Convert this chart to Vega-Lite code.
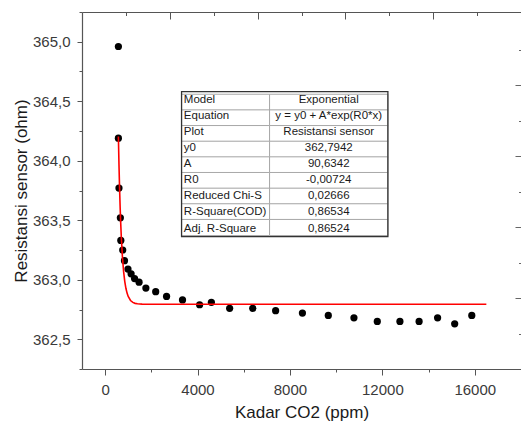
{
  "$schema": "https://vega.github.io/schema/vega-lite/v6.json",
  "width": 439,
  "height": 357,
  "autosize": {"type": "none"},
  "padding": {"left": 82, "top": 12, "right": 0, "bottom": 54},
  "background": "white",
  "config": {
    "view": {"stroke": null},
    "font": "Liberation Sans",
    "axis": {"grid": false, "labelOverlap": false}
  },
  "datasets": {
    "points": [
      {"co2": 575, "resistance": 364.96},
      {"co2": 575, "resistance": 364.19},
      {"co2": 600, "resistance": 363.77},
      {"co2": 660, "resistance": 363.52},
      {"co2": 680, "resistance": 363.33},
      {"co2": 762, "resistance": 363.25},
      {"co2": 838, "resistance": 363.16},
      {"co2": 990, "resistance": 363.09},
      {"co2": 1125, "resistance": 363.05},
      {"co2": 1275, "resistance": 363.01},
      {"co2": 1470, "resistance": 362.98},
      {"co2": 1765, "resistance": 362.93},
      {"co2": 2190, "resistance": 362.9},
      {"co2": 2660, "resistance": 362.86},
      {"co2": 3350, "resistance": 362.83},
      {"co2": 4090, "resistance": 362.79},
      {"co2": 4600, "resistance": 362.81},
      {"co2": 5390, "resistance": 362.76},
      {"co2": 6390, "resistance": 362.76},
      {"co2": 7380, "resistance": 362.74},
      {"co2": 8540, "resistance": 362.72},
      {"co2": 9660, "resistance": 362.7},
      {"co2": 10770, "resistance": 362.68},
      {"co2": 11780, "resistance": 362.65},
      {"co2": 12760, "resistance": 362.65},
      {"co2": 13590, "resistance": 362.65},
      {"co2": 14390, "resistance": 362.68},
      {"co2": 15130, "resistance": 362.63},
      {"co2": 15870, "resistance": 362.7}
    ],
    "fit": [
      {"x": 575, "y": 364.2046},
      {"x": 600, "y": 363.971},
      {"x": 625, "y": 363.7763},
      {"x": 650, "y": 363.6136},
      {"x": 675, "y": 363.478},
      {"x": 700, "y": 363.3648},
      {"x": 750, "y": 363.1915},
      {"x": 800, "y": 363.0708},
      {"x": 850, "y": 362.9868},
      {"x": 900, "y": 362.9283},
      {"x": 950, "y": 362.8876},
      {"x": 1000, "y": 362.8592},
      {"x": 1100, "y": 362.8257},
      {"x": 1200, "y": 362.8095},
      {"x": 1300, "y": 362.8016},
      {"x": 1400, "y": 362.7978},
      {"x": 1600, "y": 362.795},
      {"x": 2000, "y": 362.7943},
      {"x": 16500, "y": 362.7942}
    ],
    "table": [
      {"row": 0, "label": "Model", "value": "Exponential"},
      {"row": 1, "label": "Equation", "value": "y = y0 + A*exp(R0*x)"},
      {"row": 2, "label": "Plot", "value": "Resistansi sensor"},
      {"row": 3, "label": "y0", "value": "362,7942"},
      {"row": 4, "label": "A", "value": "90,6342"},
      {"row": 5, "label": "R0", "value": "-0,00724"},
      {"row": 6, "label": "Reduced Chi-S", "value": "0,02666"},
      {"row": 7, "label": "R-Square(COD)", "value": "0,86534"},
      {"row": 8, "label": "Adj. R-Square", "value": "0,86524"}
    ]
  },
  "resolve": {
    "scale": {"x": "independent", "y": "independent"},
    "axis": {"x": "independent", "y": "independent"}
  },
  "layer": [
    {
      "data": {"name": "points"},
      "mark": {"type": "point", "filled": true, "color": "#000000", "opacity": 1, "size": 52},
      "encoding": {
        "x": {
          "field": "co2", "type": "quantitative", "title": "Kadar CO2 (ppm)",
          "scale": {"domain": [-1000, 18000], "nice": false, "zero": false},
          "axis": {
            "orient": "bottom",
            "values": [0, 2000, 4000, 6000, 8000, 10000, 12000, 14000, 16000],
            "format": "d",
            "labelExpr": "datum.value % 4000 === 0 ? datum.label : ''",
            "tickSize": {"condition": {"test": "datum.value % 4000 === 0", "value": 6}, "value": 3},
            "tickColor": "#555555", "domainColor": "#555555", "tickWidth": 1, "domainWidth": 1.2,
            "labelFontSize": 15, "labelColor": "#3a3a3a", "labelPadding": 7, "labelFlush": false,
            "titleFontSize": 17, "titleFontWeight": "normal", "titleColor": "#1a1a1a", "titlePadding": 7
          }
        },
        "y": {
          "field": "resistance", "type": "quantitative", "title": "Resistansi sensor (ohm)",
          "scale": {"domain": [362.25, 365.25], "nice": false, "zero": false},
          "axis": {
            "orient": "left",
            "values": [362.25, 362.5, 362.75, 363, 363.25, 363.5, 363.75, 364, 364.25, 364.5, 364.75, 365, 365.25],
            "labelExpr": "abs(datum.value*2 - round(datum.value*2)) < 0.01 ? replace(format(datum.value, '.1f'), '.', ',') : ''",
            "tickSize": {"condition": {"test": "abs(datum.value*2 - round(datum.value*2)) < 0.01", "value": 5}, "value": 3},
            "tickColor": "#555555", "domainColor": "#555555", "tickWidth": 1, "domainWidth": 1.2,
            "labelFontSize": 15, "labelColor": "#3a3a3a", "labelPadding": 7,
            "titleFontSize": 17, "titleFontWeight": "normal", "titleColor": "#1a1a1a", "titlePadding": 2
          }
        }
      }
    },
    {
      "data": {"name": "fit"},
      "mark": {"type": "line", "color": "#ff0000", "strokeWidth": 1.6},
      "encoding": {
        "x": {"field": "x", "type": "quantitative", "scale": {"domain": [-1000, 18000], "nice": false, "zero": false}, "axis": null},
        "y": {"field": "y", "type": "quantitative", "scale": {"domain": [362.25, 365.25], "nice": false, "zero": false}, "axis": null}
      }
    },
    {
      "data": {"values": [{"t": 0}, {"t": 5}]},
      "mark": {"type": "point", "opacity": 0},
      "encoding": {
        "x": {
          "field": "t", "type": "quantitative",
          "scale": {"domain": [0, 5], "nice": false, "zero": false},
          "axis": {
            "orient": "top", "title": null, "labels": false,
            "values": [0.5, 1, 1.5, 2, 2.5, 3, 3.5, 4, 4.5],
            "tickSize": {"condition": {"test": "datum.value % 1 === 0", "value": -7}, "value": -3.5},
            "tickColor": "#555555", "domainColor": "#555555", "domainWidth": 1.2
          }
        }
      }
    },
    {
      "data": {"values": [{"r": 0}, {"r": 5}]},
      "mark": {"type": "point", "opacity": 0},
      "encoding": {
        "y": {
          "field": "r", "type": "quantitative",
          "scale": {"domain": [0, 5.03], "nice": false, "zero": false},
          "axis": {
            "orient": "right", "title": null, "labels": false, "domain": false,
            "values": [0.5, 1, 1.5, 2, 2.5, 3, 3.5, 4, 4.5],
            "tickSize": {"condition": {"test": "datum.value % 1 === 0", "value": -6}, "value": -2.5},
            "tickColor": "#666666"
          }
        }
      }
    },
    {
      "data": {"name": "table"},
      "mark": {"type": "bar", "height": 16.1, "fill": "white", "stroke": "#a8a8a8", "strokeWidth": 1},
      "encoding": {
        "x": {"datum": 3309, "type": "quantitative", "scale": {"domain": [-1000, 18000], "nice": false, "zero": false}, "axis": null},
        "x2": {"datum": 7118},
        "y": {"field": "row", "type": "quantitative", "scale": {"domain": [-5.45, 16.724], "reverse": true, "nice": false, "zero": false}, "axis": null}
      }
    },
    {
      "data": {"name": "table"},
      "mark": {"type": "bar", "height": 16.1, "fill": "white", "stroke": "#a8a8a8", "strokeWidth": 1},
      "encoding": {
        "x": {"datum": 7118, "type": "quantitative", "scale": {"domain": [-1000, 18000], "nice": false, "zero": false}, "axis": null},
        "x2": {"datum": 12239},
        "y": {"field": "row", "type": "quantitative", "scale": {"domain": [-5.45, 16.724], "reverse": true, "nice": false, "zero": false}, "axis": null}
      }
    },
    {
      "data": {"values": [{}]},
      "mark": {"type": "rect", "fill": null, "fillOpacity": 0, "stroke": "#333333", "strokeWidth": 1.3},
      "encoding": {
        "x": {"datum": 3309, "type": "quantitative", "scale": {"domain": [-1000, 18000], "nice": false, "zero": false}, "axis": null},
        "x2": {"datum": 12239},
        "y": {"datum": -0.5, "type": "quantitative", "scale": {"domain": [-5.45, 16.724], "reverse": true, "nice": false, "zero": false}, "axis": null},
        "y2": {"datum": 8.5}
      }
    },
    {
      "data": {"name": "table"},
      "mark": {"type": "text", "align": "left", "baseline": "middle", "font": "Liberation Sans", "fontSize": 11.5, "color": "#1a1a1a"},
      "encoding": {
        "x": {"datum": 3408, "type": "quantitative", "scale": {"domain": [-1000, 18000], "nice": false, "zero": false}, "axis": null},
        "y": {"field": "row", "type": "quantitative", "scale": {"domain": [-5.45, 16.724], "reverse": true, "nice": false, "zero": false}, "axis": null},
        "text": {"field": "label"}
      }
    },
    {
      "data": {"name": "table"},
      "mark": {"type": "text", "align": "center", "baseline": "middle", "font": "Liberation Sans", "fontSize": 11.5, "color": "#1a1a1a"},
      "encoding": {
        "x": {"datum": 9679, "type": "quantitative", "scale": {"domain": [-1000, 18000], "nice": false, "zero": false}, "axis": null},
        "y": {"field": "row", "type": "quantitative", "scale": {"domain": [-5.45, 16.724], "reverse": true, "nice": false, "zero": false}, "axis": null},
        "text": {"field": "value"}
      }
    }
  ]
}
